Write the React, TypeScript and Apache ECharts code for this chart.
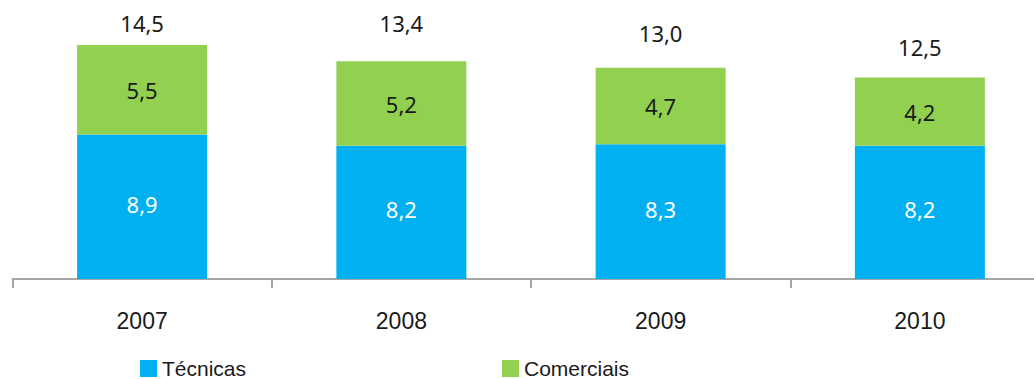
import React, { useEffect, useRef } from "react";
import * as echarts from "echarts";

const categories = ["2007", "2008", "2009", "2010"];
const tecnicas = [8.9, 8.2, 8.3, 8.2];
const comerciais = [5.5, 5.2, 4.7, 4.2];
const totals = [14.5, 13.4, 13.0, 12.5];
// label gap (px) above each stacked bar for the totals, as placed in the original
const totalLabelGap = [11, 27, 24, 20];

const fmt = (v: number) => v.toFixed(1).replace(".", ",");

export default function App() {
  const ref = useRef<HTMLDivElement>(null);
  useEffect(() => {
    if (!ref.current) return;
    const chart = echarts.init(ref.current, undefined, { renderer: "svg" });
    const valueFont = "'Noto Sans', 'DejaVu Sans', sans-serif";
    const legendText = {
      fontSize: 21,
      lineHeight: 20,
      color: "#1a1a1a",
      fontFamily: "'Liberation Sans', sans-serif",
    };
    chart.setOption({
      animation: false,
      grid: { left: 12.5, top: 19, width: 1037, height: 260, containLabel: false },
      legend: [
        {
          data: ["Técnicas"],
          left: 140,
          top: 358,
          padding: 0,
          itemWidth: 17,
          itemHeight: 17,
          itemGap: 6,
          icon: "rect",
          textStyle: legendText,
          selectedMode: false,
        },
        {
          data: ["Comerciais"],
          left: 502,
          top: 358,
          padding: 0,
          itemWidth: 17,
          itemHeight: 17,
          itemGap: 6,
          icon: "rect",
          textStyle: legendText,
          selectedMode: false,
        },
      ],
      xAxis: {
        type: "category",
        data: categories,
        axisLine: { lineStyle: { color: "#a6a6a6", width: 2 } },
        axisTick: { show: true, length: 9, interval: 0, lineStyle: { color: "#a6a6a6", width: 2 } },
        axisLabel: {
          margin: 30,
          fontSize: 23,
          color: "#1a1a1a",
          fontFamily: "'Liberation Sans Narrow', 'Liberation Sans', sans-serif",
        },
      },
      yAxis: { type: "value", min: 0, max: 16, show: false, splitLine: { show: false } },
      series: [
        {
          name: "Técnicas",
          type: "bar",
          stack: "s",
          barWidth: 130,
          data: tecnicas,
          itemStyle: { color: "#00b0f0" },
          label: {
            show: true,
            position: "inside",
            offset: [0, -3],
            color: "#ffffff",
            fontSize: 22,
            fontFamily: valueFont,
            formatter: (p: any) => fmt(p.value),
          },
        },
        {
          name: "Comerciais",
          type: "bar",
          stack: "s",
          barWidth: 130,
          data: comerciais,
          itemStyle: { color: "#92d050" },
          label: {
            show: true,
            position: "inside",
            color: "#1a1a1a",
            fontSize: 22,
            fontFamily: valueFont,
            formatter: (p: any) => fmt(p.value),
          },
        },
        {
          name: "Total",
          type: "bar",
          stack: "s",
          barWidth: 130,
          data: totals.map((t, i) => ({
            value: 0,
            label: { distance: totalLabelGap[i] },
          })),
          itemStyle: { color: "transparent" },
          label: {
            show: true,
            position: "top",
            color: "#1a1a1a",
            fontSize: 22,
            fontFamily: valueFont,
            formatter: (p: any) => fmt(totals[p.dataIndex]),
          },
        },
      ],
    });
    return () => chart.dispose();
  }, []);
  return (
    <div
      ref={ref}
      style={{ position: "fixed", left: 0, top: 0, width: 1052, height: 379, background: "#fff" }}
    />
  );
}
